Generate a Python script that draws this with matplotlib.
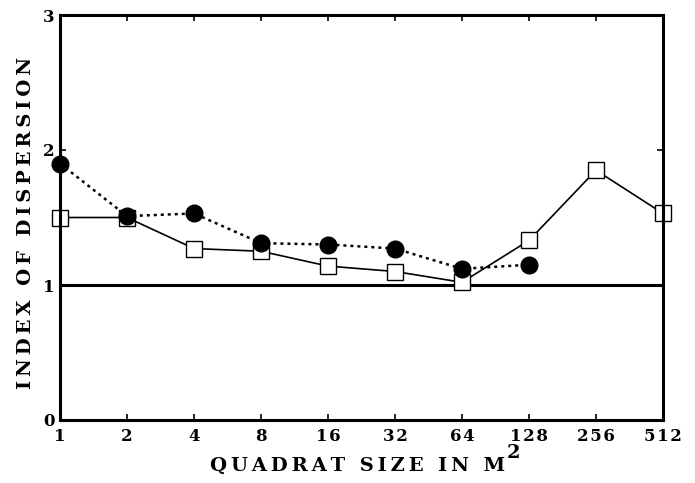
import matplotlib
matplotlib.use("Agg")
import matplotlib.pyplot as plt
import numpy as np

quadrat_sizes = [1, 2, 4, 8, 16, 32, 64, 128, 256, 512]
tick_labels = ["1", "2", "4", "8", "16", "32", "64", "128", "256", "512"]

# open squares, solid line
squares_x = [1, 2, 4, 8, 16, 32, 64, 128, 256, 512]
squares_y = [1.50, 1.50, 1.27, 1.25, 1.14, 1.10, 1.02, 1.33, 1.85, 1.53]

# filled circles, dotted line
circles_x = [1, 2, 4, 8, 16, 32, 64, 128]
circles_y = [1.90, 1.51, 1.53, 1.31, 1.30, 1.27, 1.12, 1.15]

reference_level = 1.0

plt.rcParams['font.family'] = ['DejaVu Serif']
plt.rcParams['font.weight'] = 'bold'

fig = plt.figure(figsize=(6.95, 4.83), dpi=100)
ax = fig.add_axes([60/695, 1-420/483, (663-60)/695, (420-15)/483])

ax.set_xscale('log', base=2)
ax.set_xlim(1, 512)
ax.set_ylim(0, 3)

ax.axhline(reference_level, color='black', lw=2.2, zorder=2)

ax.plot(squares_x, squares_y, linestyle='-', color='black', lw=1.2,
        marker='s', markersize=11, markerfacecolor='white', markeredgecolor='black',
        markeredgewidth=1.0, clip_on=False, zorder=3)
ax.plot(circles_x, circles_y, linestyle=(0, (1.2, 1.6)), color='black', lw=1.8,
        marker='o', markersize=12, markerfacecolor='black', markeredgecolor='black',
        clip_on=False, zorder=4)

def spaced(t, sep="\u2009"):
    return sep.join(t)

ax.set_xticks(quadrat_sizes)
ax.set_xticklabels([spaced(t, "\u200a") for t in tick_labels])
ax.xaxis.set_minor_locator(matplotlib.ticker.NullLocator())
ax.set_yticks([0, 1, 2, 3])
ax.set_yticklabels(["0", "1", "2", "3"])
ax.tick_params(direction='in', length=4, width=1.2, top=True, right=True,
               labelsize=12, pad=6)
ax.tick_params(axis='y', pad=4)

for s in ax.spines.values():
    s.set_linewidth(2.2)
    s.set_zorder(5)

fig.text(210/695, 1-466/483, spaced("QUADRAT SIZE IN M"), fontsize=14,
         fontweight='bold', ha='left', va='center')
fig.text(507/695, 1-453/483, "2", fontsize=14, fontweight='bold',
         ha='left', va='center')
fig.text(26/695, 1-223/483, spaced("INDEX OF DISPERSION"), fontsize=14,
         fontweight='bold', ha='center', va='center', rotation=90)

fig.savefig("out.png", dpi=100)
